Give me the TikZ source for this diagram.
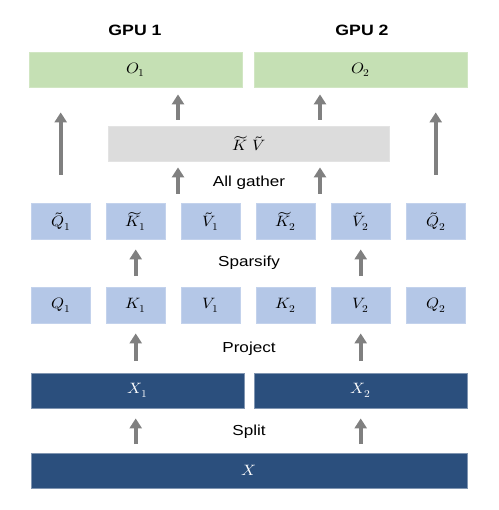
\documentclass[tikz,border=0pt]{standalone}
\usepackage{amsmath}
\usepackage{fontspec}
\usepackage{unicode-math}
\setmathfont{Latin Modern Math}
\setsansfont{Liberation Sans}
\usetikzlibrary{arrows.meta,calc}
\definecolor{dkblue}{HTML}{2B4F7D}
\definecolor{ltblue}{HTML}{B4C7E7}
\definecolor{ltgreen}{HTML}{C5E0B4}
\definecolor{ltgray}{HTML}{DCDCDC}
\definecolor{arrgray}{HTML}{808080}
\newcommand{\wide}[1]{\scalebox{1.18}[1]{#1}}
\newcommand{\mwide}[1]{\scalebox{1.1}[1]{#1}}
\tikzset{
  box/.style={rectangle, inner sep=0pt, anchor=north west, font=\fontsize{15}{17}\selectfont},
  greenbox/.style={box, fill=ltgreen, draw=ltgreen!80!white, line width=0.4pt},
  bluebox/.style={box, fill=ltblue, draw=ltblue!80!white, line width=0.4pt},
  graybox/.style={box, fill=ltgray, draw=ltgray!80!white, line width=0.4pt},
  darkbox/.style={box, fill=dkblue, draw=dkblue!60!white, line width=0.4pt, text=white},
  lbl/.style={font=\sffamily\fontsize{14.5}{16}\selectfont},
  gpu/.style={font=\sffamily\bfseries\fontsize{15}{17}\selectfont},
  arr/.style={draw=arrgray, line width=4pt, -{Triangle[width=12pt,length=10pt]}},
}
\begin{document}
\begin{tikzpicture}[x=1pt,y=-1pt]
\useasboundingbox (0,0) rectangle (498,510);
% GPU labels
\node[gpu] (gpu1) at (135,30) {\wide{GPU 1}};
\node[gpu] (gpu2) at (362,30) {\wide{GPU 2}};
% O row
\node[greenbox, minimum width=213pt, minimum height=35pt] (O1) at (29,52) {\mwide{$O_1$}};
\node[greenbox, minimum width=213pt, minimum height=35pt] (O2) at (254,52) {\mwide{$O_2$}};
% KV gathered
\node[graybox, minimum width=281pt, minimum height=35pt] (KV) at (108,126) {\mwide{$\widetilde{K}\ \tilde{V}$}};
% tilde row
\foreach \nm/\x/\t in {tQ1/31/{\tilde{Q}_1}, tK1/106/{\widetilde{K}_1}, tV1/181/{\tilde{V}_1}, tK2/256/{\widetilde{K}_2}, tV2/331/{\tilde{V}_2}, tQ2/406/{\tilde{Q}_2}}
  \node[bluebox, minimum width=59pt, minimum height=36pt] (\nm) at (\x,203) {\mwide{$\t$}};
% QKV row
\foreach \nm/\x/\t in {Q1/31/{Q_1}, K1/106/{K_1}, V1/181/{V_1}, K2/256/{K_2}, V2/331/{V_2}, Q2/406/{Q_2}}
  \node[bluebox, minimum width=59pt, minimum height=36pt] (\nm) at (\x,287) {\mwide{$\t$}};
% X row
\node[darkbox, minimum width=213pt, minimum height=35pt] (X1) at (31,373) {\mwide{$X_1$}};
\node[darkbox, minimum width=213pt, minimum height=35pt] (X2) at (254,373) {\mwide{$X_2$}};
\node[darkbox, minimum width=436pt, minimum height=35pt] (X) at (31,453) {\mwide{$X$}};
% step labels
\node[lbl] (lgather) at (249,183) {\wide{All gather}};
\node[lbl] (lsparse) at (249,263) {\wide{Sparsify}};
\node[lbl] (lproj) at (249,349) {\wide{Project}};
\node[lbl] (lsplit) at (249,432) {\wide{Split}};
% guide coordinates
\coordinate (g1) at (178,0);
\coordinate (g2) at (320,0);
% arrows: split
\draw[arr, shorten <=9pt, shorten >=10pt] (X.north -| K1.center) -- (K1.center |- X1.south);
\draw[arr, shorten <=9pt, shorten >=10pt] (X.north -| V2.center) -- (V2.center |- X2.south);
% project
\draw[arr, shorten <=12pt, shorten >=10pt] (X1.north -| K1.center) -- (K1.south);
\draw[arr, shorten <=12pt, shorten >=10pt] (X2.north -| V2.center) -- (V2.south);
% sparsify
\draw[arr, shorten <=11pt, shorten >=10pt] (K1.north) -- (tK1.south);
\draw[arr, shorten <=11pt, shorten >=10pt] (V2.north) -- (tV2.south);
% all gather
\draw[arr, shorten <=9pt, shorten >=6pt] (g1 |- tK1.north) -- (g1 |- KV.south);
\draw[arr, shorten <=9pt, shorten >=6pt] (g2 |- tK1.north) -- (g2 |- KV.south);
% to outputs
\draw[arr, shorten <=6pt, shorten >=7pt] (g1 |- KV.north) -- (g1 |- O1.south);
\draw[arr, shorten <=6pt, shorten >=7pt] (g2 |- KV.north) -- (g2 |- O2.south);
% long Q arrows
\draw[arr, shorten <=28pt, shorten >=25pt] (tQ1.north) -- (tQ1.center |- O1.south);
\draw[arr, shorten <=28pt, shorten >=25pt] (tQ2.north) -- (tQ2.center |- O2.south);
\end{tikzpicture}
\end{document}
